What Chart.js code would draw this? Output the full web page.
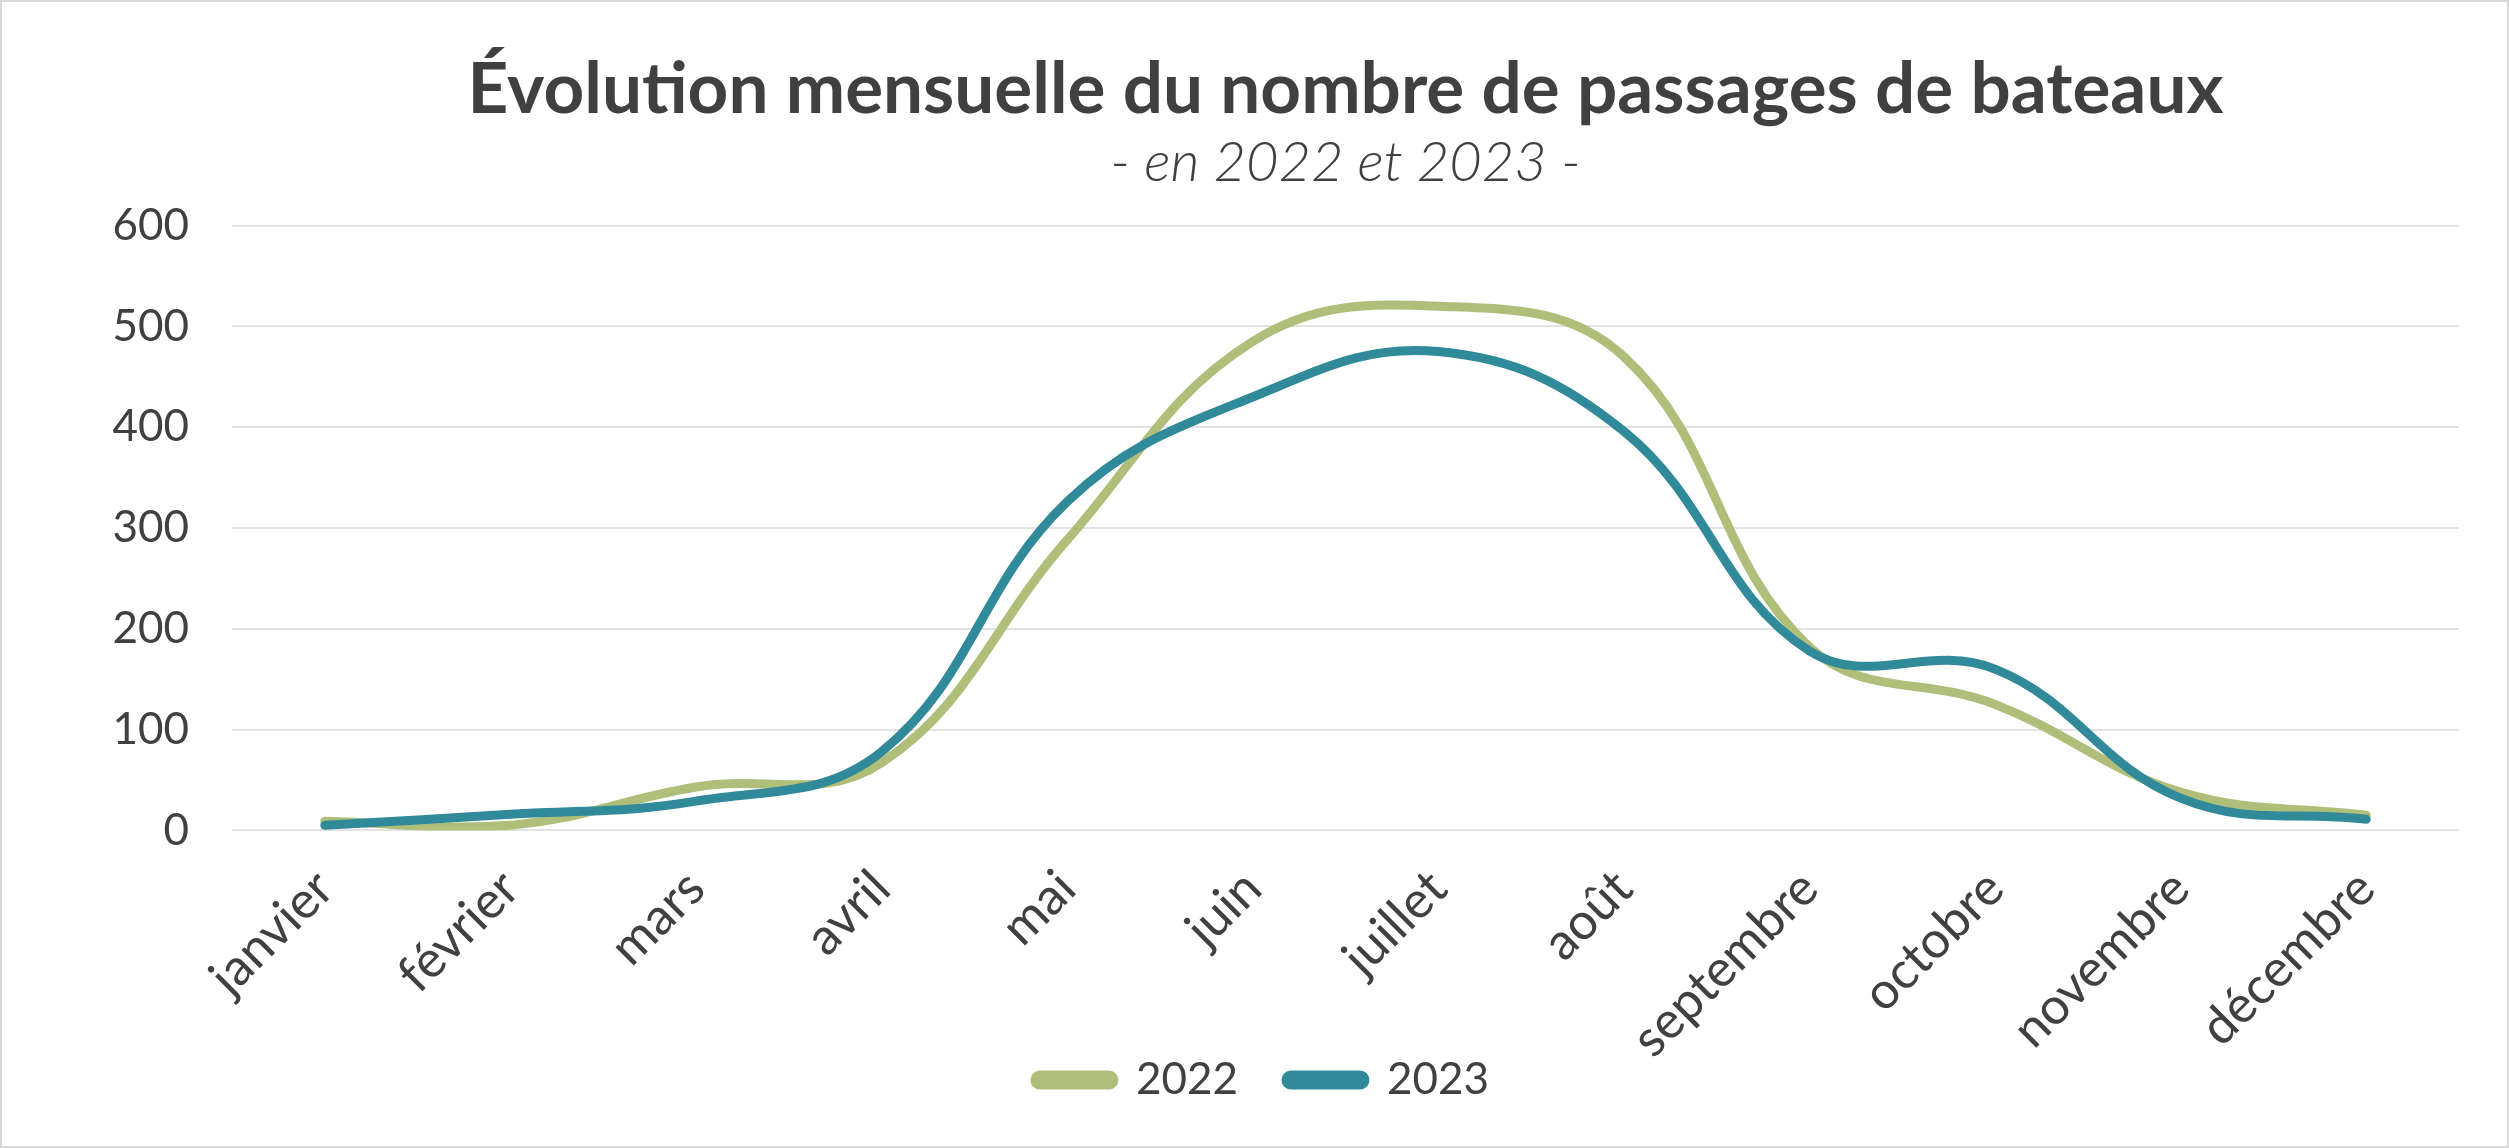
<!DOCTYPE html>
<html><head><meta charset="utf-8">
<script src="https://cdn.jsdelivr.net/npm/chart.js@4.4.1/dist/chart.umd.min.js"></script>
<style>html,body{margin:0;padding:0;background:#fff;}canvas{display:block}</style>
</head><body>
<canvas id="c" width="2509" height="1148"></canvas>
<script>
const months = ['janvier','février','mars','avril','mai','juin','juillet','août','septembre','octobre','novembre','décembre'];
const values2022 = [9, 5, 43, 67, 288, 485, 520, 470, 182, 125, 38, 15];
const values2023 = [5, 16, 29, 78, 326, 430, 475, 396, 178, 160, 32, 11];
const seriesNames = ['2022', '2023'];
const yMin = 0, yMax = 600, yStep = 100;
const titleText = 'Évolution mensuelle du nombre de passages de bateaux';
const subtitleText = '- en 2022 et 2023 -';

const TXT = '#404040';
const FONT = 'Lato';

const frame = {
  id: 'frame',
  beforeDraw(chart) {
    const c = chart.ctx; c.save(); c.fillStyle = '#fff';
    c.fillRect(0, 0, chart.width, chart.height); c.restore();
  },
  afterLayout(chart) {
    // let rotated month labels extend below the axis box (no clipping)
    chart.scales.x.bottom = chart.height;
  },
  afterDraw(chart) {
    const c = chart.ctx; c.save(); c.strokeStyle = '#d9d9d9'; c.lineWidth = 2;
    c.strokeRect(1, 1, chart.width - 2, chart.height - 2); c.restore();
  }
};

new Chart(document.getElementById('c'), {
  type: 'line',
  data: {
    labels: months,
    datasets: [
      { label: seriesNames[0], data: values2022, borderColor: '#afbf7a', backgroundColor: '#afbf7a', order: 1 },
      { label: seriesNames[1], data: values2023, borderColor: '#318a9a', backgroundColor: '#318a9a', order: 0 }
    ]
  },
  options: {
    responsive: false,
    devicePixelRatio: 1,
    animation: false,
    layout: { padding: { left: 65, right: 50, top: 0, bottom: 36 } },
    elements: {
      line: { borderWidth: 9, tension: 0.4, borderCapStyle: 'round', borderJoinStyle: 'round', fill: false },
      point: { radius: 0, hoverRadius: 0 }
    },
    scales: {
      x: {
        offset: true,
        grid: { display: false },
        border: { display: false },
        ticks: { color: TXT, font: { family: FONT, size: 51 }, minRotation: 45, maxRotation: 45, padding: 20, autoSkip: false },
        afterFit(s) { s.height = 179.6; }
      },
      y: {
        min: yMin, max: yMax,
        grid: { color: '#e3e3e3', lineWidth: 2, drawTicks: false },
        border: { display: false },
        ticks: { stepSize: yStep, color: TXT, font: { family: FONT, size: 44 }, padding: 43 },
        afterFit(s) { s.width = 167; }
      }
    },
    plugins: {
      title: {
        display: true, text: titleText, color: TXT, fullSize: false,
        font: { family: FONT, size: 71, weight: 'bold', lineHeight: 1.2 },
        padding: { top: 48, bottom: 0 }
      },
      subtitle: {
        display: true, text: subtitleText, color: TXT, fullSize: false,
        font: { family: FONT, size: 56, style: 'italic', weight: '300', lineHeight: 1.0 },
        padding: { top: 2, bottom: 34.4 }
      },
      legend: {
        position: 'bottom',
        labels: {
          color: TXT, font: { family: FONT, size: 44 },
          boxWidth: 79, boxHeight: 10, padding: 48,
          useBorderRadius: true, borderRadius: 5,
          sort: (a, b) => a.datasetIndex - b.datasetIndex
        }
      },
      tooltip: { enabled: false }
    }
  },
  plugins: [frame]
});
</script>
</body></html>
